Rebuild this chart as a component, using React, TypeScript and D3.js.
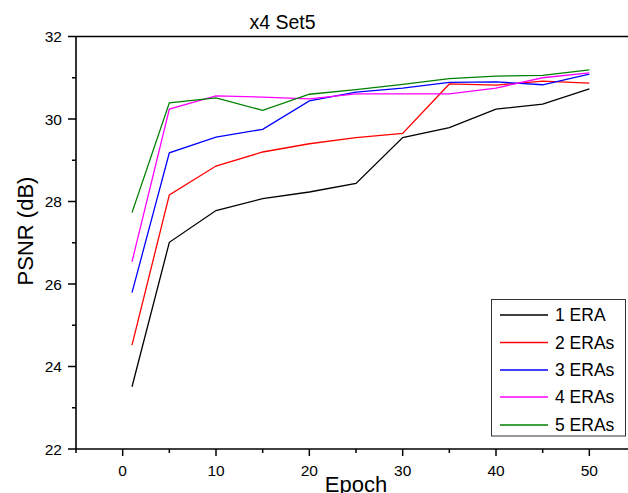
import React from "react";
import * as d3 from "d3";

const epochs = [1, 5, 10, 15, 20, 25, 30, 35, 40, 45, 50];
const era1 = [23.51, 27.01, 27.78, 28.07, 28.23, 28.44, 29.55, 29.79, 30.24, 30.36, 30.73];
const era2 = [24.52, 28.16, 28.86, 29.2, 29.4, 29.55, 29.65, 30.85, 30.82, 30.92, 30.87];
const era3 = [25.79, 29.18, 29.56, 29.75, 30.44, 30.65, 30.75, 30.89, 30.9, 30.83, 31.09];
const era4 = [26.54, 30.24, 30.56, 30.53, 30.49, 30.61, 30.61, 30.61, 30.75, 31.0, 31.12];
const era5 = [27.73, 30.39, 30.51, 30.21, 30.6, 30.71, 30.84, 30.98, 31.04, 31.06, 31.19];
const seriesNames = ["1 ERA", "2 ERAs", "3 ERAs", "4 ERAs", "5 ERAs"];
const seriesColors = ["#000000", "#ff0000", "#0000ff", "#ff00ff", "#008000"];
const xTicks = [0, 10, 20, 30, 40, 50];
const xMinorTicks = [-5, 5, 15, 25, 35, 45];
const yTicks = [22, 24, 26, 28, 30, 32];
const yMinorTicks = [23, 25, 27, 29, 31];

const W = 628;
const H = 493;
const FONT = "'Liberation Sans', Arial, sans-serif";

export default function App() {
  const allSeries = [era1, era2, era3, era4, era5];
  const x = d3.scaleLinear().domain([-5, 55]).range([76, 636]);
  const y = d3.scaleLinear().domain([22, 32]).range([449, 36.5]);
  const line = d3
    .line<number>()
    .x((_, i) => x(epochs[i]))
    .y((d) => y(d));

  const left = x(-5);
  const bottom = y(22);
  const top = y(32);

  const legX = 491.5;
  const legY = 299.5;
  const legRowY = [315, 342.5, 370, 397, 425];

  return (
    <svg
      width={W}
      height={H}
      style={{ position: "absolute", left: 0, top: 0, background: "#fff" }}
      fontFamily={FONT}
    >
      <rect x={0} y={0} width={W} height={H} fill="#fff" />
      {/* Title */}
      <text x={282.5} y={29} fontSize={19.5} textAnchor="middle" fill="#000">
        x4 Set5
      </text>

      {/* Data lines */}
      <g>
        {allSeries.map((s, i) => (
          <path
            key={i}
            d={line(s) || ""}
            fill="none"
            stroke={seriesColors[i]}
            strokeWidth={1.3}
            strokeLinejoin="miter"
          />
        ))}
      </g>

      {/* Axes frame */}
      <line x1={left} x2={W} y1={bottom} y2={bottom} stroke="#000" strokeWidth={1.6} />
      <line x1={left} x2={W} y1={top} y2={top} stroke="#000" strokeWidth={1.6} />
      <line x1={left} x2={left} y1={top} y2={bottom} stroke="#000" strokeWidth={1.6} />

      {/* Y ticks */}
      {yTicks.map((t) => (
        <g key={"y" + t}>
          <line x1={left - 8} x2={left} y1={y(t)} y2={y(t)} stroke="#000" strokeWidth={1.5} />
          <text x={62} y={y(t) + 5.5} fontSize={15.5} textAnchor="end" fill="#000">
            {t}
          </text>
        </g>
      ))}
      {yMinorTicks.map((t) => (
        <line key={"ym" + t} x1={left - 4} x2={left} y1={y(t)} y2={y(t)} stroke="#000" strokeWidth={1.5} />
      ))}

      {/* X ticks */}
      {xTicks.map((t) => (
        <g key={"x" + t}>
          <line x1={x(t)} x2={x(t)} y1={bottom} y2={bottom + 7} stroke="#000" strokeWidth={1.5} />
          <text x={x(t)} y={476} fontSize={15.5} textAnchor="middle" fill="#000">
            {t}
          </text>
        </g>
      ))}
      {xMinorTicks.map((t) => (
        <line key={"xm" + t} x1={x(t)} x2={x(t)} y1={bottom} y2={bottom + 4} stroke="#000" strokeWidth={1.5} />
      ))}

      {/* Axis labels */}
      <text
        x={0}
        y={0}
        fontSize={22}
        textAnchor="middle"
        fill="#000"
        transform={`translate(33,231) rotate(-90)`}
      >
        PSNR (dB)
      </text>
      <text x={356} y={492} fontSize={22} textAnchor="middle" fill="#000">
        Epoch
      </text>

      {/* Legend */}
      <rect
        x={legX}
        y={legY}
        width={134}
        height={136.5}
        fill="#fff"
        stroke="#333"
        strokeWidth={1}
      />
      {seriesNames.map((n, i) => (
        <g key={n}>
          <line x1={500} x2={548} y1={legRowY[i]} y2={legRowY[i]} stroke={seriesColors[i]} strokeWidth={1.3} />
          <text x={555} y={legRowY[i] + 6} fontSize={17.5} fill="#000">
            {n}
          </text>
        </g>
      ))}
    </svg>
  );
}
